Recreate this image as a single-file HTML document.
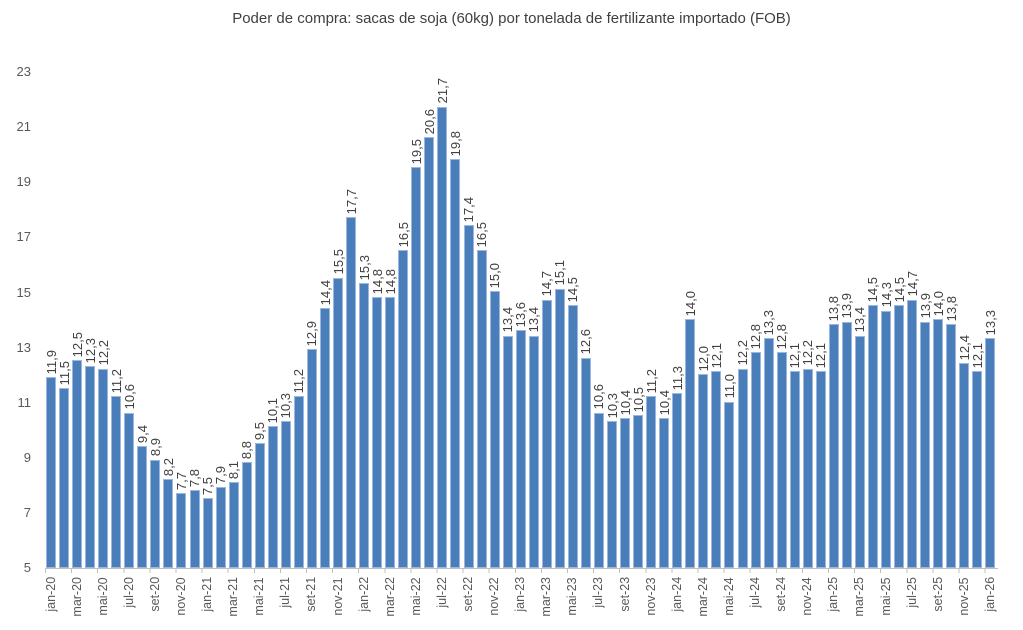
<!DOCTYPE html>
<html><head><meta charset="utf-8"><style>
body{margin:0;background:#fff;width:1023px;height:630px;overflow:hidden;position:relative;font-family:"Liberation Sans",Arial,sans-serif;color:#595959}
.title{position:absolute;top:10px;left:0;width:1023px;text-align:center;font-size:15px;color:#404040}
.yl{position:absolute;left:0;width:31px;text-align:right;font-size:13px;line-height:14px}
.plot{position:absolute;left:44.5px;top:0;width:953px;height:568px;display:flex;align-items:flex-end}
.c{width:13.05px;flex:none;display:flex;flex-direction:column;align-items:center;justify-content:flex-end}
.c span{writing-mode:vertical-rl;transform:rotate(180deg);font-size:13px;line-height:13px;margin-bottom:3px;color:#404040;white-space:nowrap}
.c i{display:block;width:8px;border:0.5px solid #9bb7dd;background:#4a7ebb;height:calc((var(--v) - 5) * 27.56px - 1px)}
.axis{position:absolute;left:44.5px;top:568px;width:953px;height:1px;background:#bfbfbf}
.ticks{position:absolute;left:44.5px;top:568px;width:954px;height:5px;background:repeating-linear-gradient(90deg,#bfbfbf 0 1px,transparent 1px 26.1px)}
.xl{position:absolute;left:44.5px;top:577px;width:953px;display:flex}
.xl div{width:13.05px;flex:none;display:flex;justify-content:center}
.xl span{writing-mode:vertical-rl;transform:rotate(180deg);font-size:12.5px;line-height:13px;white-space:nowrap;text-align:right}
</style></head><body>
<div class="title">Poder de compra: sacas de soja (60kg) por tonelada de fertilizante importado (FOB)</div>
<div class="yl" style="top:65px">23</div>
<div class="yl" style="top:120px">21</div>
<div class="yl" style="top:175px">19</div>
<div class="yl" style="top:230px">17</div>
<div class="yl" style="top:286px">15</div>
<div class="yl" style="top:341px">13</div>
<div class="yl" style="top:396px">11</div>
<div class="yl" style="top:451px">9</div>
<div class="yl" style="top:506px">7</div>
<div class="yl" style="top:561px">5</div>
<div class="plot">
<div class="c"><span>11,9</span><i style="--v:11.9"></i></div>
<div class="c"><span>11,5</span><i style="--v:11.5"></i></div>
<div class="c"><span>12,5</span><i style="--v:12.5"></i></div>
<div class="c"><span>12,3</span><i style="--v:12.3"></i></div>
<div class="c"><span>12,2</span><i style="--v:12.2"></i></div>
<div class="c"><span>11,2</span><i style="--v:11.2"></i></div>
<div class="c"><span>10,6</span><i style="--v:10.6"></i></div>
<div class="c"><span>9,4</span><i style="--v:9.4"></i></div>
<div class="c"><span>8,9</span><i style="--v:8.9"></i></div>
<div class="c"><span>8,2</span><i style="--v:8.2"></i></div>
<div class="c"><span>7,7</span><i style="--v:7.7"></i></div>
<div class="c"><span>7,8</span><i style="--v:7.8"></i></div>
<div class="c"><span>7,5</span><i style="--v:7.5"></i></div>
<div class="c"><span>7,9</span><i style="--v:7.9"></i></div>
<div class="c"><span>8,1</span><i style="--v:8.1"></i></div>
<div class="c"><span>8,8</span><i style="--v:8.8"></i></div>
<div class="c"><span>9,5</span><i style="--v:9.5"></i></div>
<div class="c"><span>10,1</span><i style="--v:10.1"></i></div>
<div class="c"><span>10,3</span><i style="--v:10.3"></i></div>
<div class="c"><span>11,2</span><i style="--v:11.2"></i></div>
<div class="c"><span>12,9</span><i style="--v:12.9"></i></div>
<div class="c"><span>14,4</span><i style="--v:14.4"></i></div>
<div class="c"><span>15,5</span><i style="--v:15.5"></i></div>
<div class="c"><span>17,7</span><i style="--v:17.7"></i></div>
<div class="c"><span>15,3</span><i style="--v:15.3"></i></div>
<div class="c"><span>14,8</span><i style="--v:14.8"></i></div>
<div class="c"><span>14,8</span><i style="--v:14.8"></i></div>
<div class="c"><span>16,5</span><i style="--v:16.5"></i></div>
<div class="c"><span>19,5</span><i style="--v:19.5"></i></div>
<div class="c"><span>20,6</span><i style="--v:20.6"></i></div>
<div class="c"><span>21,7</span><i style="--v:21.7"></i></div>
<div class="c"><span>19,8</span><i style="--v:19.8"></i></div>
<div class="c"><span>17,4</span><i style="--v:17.4"></i></div>
<div class="c"><span>16,5</span><i style="--v:16.5"></i></div>
<div class="c"><span>15,0</span><i style="--v:15.0"></i></div>
<div class="c"><span>13,4</span><i style="--v:13.4"></i></div>
<div class="c"><span>13,6</span><i style="--v:13.6"></i></div>
<div class="c"><span>13,4</span><i style="--v:13.4"></i></div>
<div class="c"><span>14,7</span><i style="--v:14.7"></i></div>
<div class="c"><span>15,1</span><i style="--v:15.1"></i></div>
<div class="c"><span>14,5</span><i style="--v:14.5"></i></div>
<div class="c"><span>12,6</span><i style="--v:12.6"></i></div>
<div class="c"><span>10,6</span><i style="--v:10.6"></i></div>
<div class="c"><span>10,3</span><i style="--v:10.3"></i></div>
<div class="c"><span>10,4</span><i style="--v:10.4"></i></div>
<div class="c"><span>10,5</span><i style="--v:10.5"></i></div>
<div class="c"><span>11,2</span><i style="--v:11.2"></i></div>
<div class="c"><span>10,4</span><i style="--v:10.4"></i></div>
<div class="c"><span>11,3</span><i style="--v:11.3"></i></div>
<div class="c"><span>14,0</span><i style="--v:14.0"></i></div>
<div class="c"><span>12,0</span><i style="--v:12.0"></i></div>
<div class="c"><span>12,1</span><i style="--v:12.1"></i></div>
<div class="c"><span>11,0</span><i style="--v:11.0"></i></div>
<div class="c"><span>12,2</span><i style="--v:12.2"></i></div>
<div class="c"><span>12,8</span><i style="--v:12.8"></i></div>
<div class="c"><span>13,3</span><i style="--v:13.3"></i></div>
<div class="c"><span>12,8</span><i style="--v:12.8"></i></div>
<div class="c"><span>12,1</span><i style="--v:12.1"></i></div>
<div class="c"><span>12,2</span><i style="--v:12.2"></i></div>
<div class="c"><span>12,1</span><i style="--v:12.1"></i></div>
<div class="c"><span>13,8</span><i style="--v:13.8"></i></div>
<div class="c"><span>13,9</span><i style="--v:13.9"></i></div>
<div class="c"><span>13,4</span><i style="--v:13.4"></i></div>
<div class="c"><span>14,5</span><i style="--v:14.5"></i></div>
<div class="c"><span>14,3</span><i style="--v:14.3"></i></div>
<div class="c"><span>14,5</span><i style="--v:14.5"></i></div>
<div class="c"><span>14,7</span><i style="--v:14.7"></i></div>
<div class="c"><span>13,9</span><i style="--v:13.9"></i></div>
<div class="c"><span>14,0</span><i style="--v:14.0"></i></div>
<div class="c"><span>13,8</span><i style="--v:13.8"></i></div>
<div class="c"><span>12,4</span><i style="--v:12.4"></i></div>
<div class="c"><span>12,1</span><i style="--v:12.1"></i></div>
<div class="c"><span>13,3</span><i style="--v:13.3"></i></div>
</div>
<div class="axis"></div>
<div class="ticks"></div>
<div class="xl">
<div><span>jan-20</span></div><div></div><div><span>mar-20</span></div><div></div><div><span>mai-20</span></div><div></div><div><span>jul-20</span></div><div></div><div><span>set-20</span></div><div></div><div><span>nov-20</span></div><div></div>
<div><span>jan-21</span></div><div></div><div><span>mar-21</span></div><div></div><div><span>mai-21</span></div><div></div><div><span>jul-21</span></div><div></div><div><span>set-21</span></div><div></div><div><span>nov-21</span></div><div></div>
<div><span>jan-22</span></div><div></div><div><span>mar-22</span></div><div></div><div><span>mai-22</span></div><div></div><div><span>jul-22</span></div><div></div><div><span>set-22</span></div><div></div><div><span>nov-22</span></div><div></div>
<div><span>jan-23</span></div><div></div><div><span>mar-23</span></div><div></div><div><span>mai-23</span></div><div></div><div><span>jul-23</span></div><div></div><div><span>set-23</span></div><div></div><div><span>nov-23</span></div><div></div>
<div><span>jan-24</span></div><div></div><div><span>mar-24</span></div><div></div><div><span>mai-24</span></div><div></div><div><span>jul-24</span></div><div></div><div><span>set-24</span></div><div></div><div><span>nov-24</span></div><div></div>
<div><span>jan-25</span></div><div></div><div><span>mar-25</span></div><div></div><div><span>mai-25</span></div><div></div><div><span>jul-25</span></div><div></div><div><span>set-25</span></div><div></div><div><span>nov-25</span></div><div></div>
<div><span>jan-26</span></div>
</div>
</body></html>
